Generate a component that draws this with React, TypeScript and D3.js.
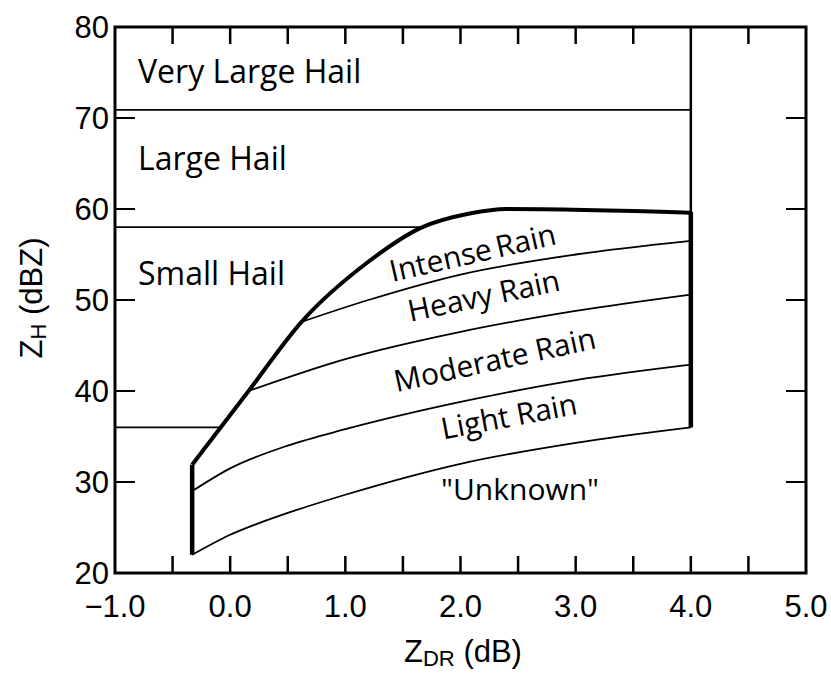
import React from 'react';
import * as d3 from 'd3';

const W = 831;
const H = 675;

// axis data
const xDomain: [number, number] = [-1, 5];
const yDomain: [number, number] = [20, 80];
const xLabelValues = [-1, 0, 1, 2, 3, 4, 5];
const xTickValues = [-0.5, 0, 0.5, 1, 1.5, 2, 2.5, 3, 3.5, 4, 4.5];
const xTopTickValues = [-0.5, 0, 0.5, 1, 1.5, 2, 2.5, 3, 3.5, 4.5];
const yLabelValues = [20, 30, 40, 50, 60, 70, 80];
const yTickValues = [30, 40, 50, 60, 70];

// hail boundaries (dBZ) and where they stop (dB)
const hailLevels = [70.9, 58, 36];
const hailLevelEnds = [4.0, 1.66, -0.09];

// rain region boundaries [Zdr, Zh]
const upperBoundary: [number, number][] = [
  [-0.33, 31.9], [0.16, 40], [0.62, 47.6], [1.2, 54.2], [1.65, 57.9],
  [2.08, 59.5], [2.4, 60], [4.0, 59.6],
];
const intenseHeavy: [number, number][] = [
  [0.62, 47.6], [1.2, 50], [2.0, 52.8], [3.0, 55], [4.0, 56.5],
];
const heavyModerate: [number, number][] = [
  [0.16, 40], [1.0, 43.5], [2.0, 46.5], [3.0, 48.8], [4.0, 50.6],
];
const moderateLight: [number, number][] = [
  [-0.33, 29], [0, 31.5], [0.5, 34], [1.0, 35.8], [2.0, 38.8], [3.0, 41.2], [4.0, 42.9],
];
const lowerBoundary: [number, number][] = [
  [-0.33, 22], [0, 24.2], [0.5, 26.6], [1.0, 28.6], [2.0, 32.0], [3.0, 34.3], [4.0, 36],
];

const regionNames = ['Very Large Hail', 'Large Hail', 'Small Hail', 'Intense Rain', 'Heavy Rain', 'Moderate Rain', 'Light Rain', '"Unknown"'];
// label anchor (Zdr, Zh), rotation, anchor
const regionAnchors: [number, number, number, string][] = [
  [-0.8, 73.8, 0, 'start'],
  [-0.8, 64.3, 0, 'start'],
  [-0.8, 51.6, 0, 'start'],
  [2.126, 54.07, -12.9, 'middle'],
  [2.221, 49.34, -11.8, 'middle'],
  [2.317, 42.31, -12.3, 'middle'],
  [2.438, 36.08, -10.7, 'middle'],
  [2.517, 28.0, 0, 'middle'],
];

const M = { left: 115, right: 831 - 806, top: 27, bottom: 675 - 573 };

export default function App() {
  const x = d3.scaleLinear().domain(xDomain).range([M.left, W - M.right]);
  const y = d3.scaleLinear().domain(yDomain).range([H - M.bottom, M.top]);
  const line = d3.line<[number, number]>().x(d => x(d[0])).y(d => y(d[1])).curve(d3.curveMonotoneX);
  const x0 = x(xDomain[0]), x1 = x(xDomain[1]);
  const y0 = y(yDomain[0]), y1 = y(yDomain[1]);
  const labelFont = '"Open Sans", Lato, sans-serif';
  const numFont = '"Liberation Sans", Arial, sans-serif';
  const first = upperBoundary[0];
  const last = upperBoundary[upperBoundary.length - 1];
  const lowFirst = lowerBoundary[0];
  const lowLast = lowerBoundary[lowerBoundary.length - 1];
  return (
    <svg width={W} height={H} style={{ position: 'absolute', left: 0, top: 0, background: '#fff' }}>
      <rect width={W} height={H} fill="#fff" />
      {/* frame */}
      <rect x={x0} y={y1} width={x1 - x0} height={y0 - y1} fill="none" stroke="#000" strokeWidth={3} />
      {/* ticks */}
      {xTickValues.map(v => (
        <line key={'bx' + v} x1={x(v)} x2={x(v)} y1={y0} y2={y0 - 17} stroke="#000" strokeWidth={2.5} />
      ))}
      {xTopTickValues.map(v => (
        <line key={'tx' + v} x1={x(v)} x2={x(v)} y1={y1} y2={y1 + 17} stroke="#000" strokeWidth={2.5} />
      ))}
      {yTickValues.map(v => (
        <g key={'y' + v}>
          <line x1={x0} x2={x0 + 20} y1={y(v)} y2={y(v)} stroke="#000" strokeWidth={2} />
          <line x1={x1} x2={x1 - 20} y1={y(v)} y2={y(v)} stroke="#000" strokeWidth={2} />
        </g>
      ))}
      {/* tick labels */}
      {xLabelValues.map(v => (
        <text key={'xl' + v} x={x(v)} y={y0 + 44} textAnchor="middle" fontFamily={numFont} fontSize={31} fill="#000">
          {(v < 0 ? '\u2212' : '') + Math.abs(v).toFixed(1)}
        </text>
      ))}
      {yLabelValues.map(v => (
        <text key={'yl' + v} x={x0 - 6} y={y(v)} dy="0.36em" textAnchor="end" fontFamily={numFont} fontSize={31} fill="#000">
          {v}
        </text>
      ))}
      {/* axis titles */}
      <text x={463} y={662} textAnchor="middle" fontFamily={numFont} fontSize={31} fill="#000">
        Z<tspan fontSize={22} dy={4}>DR</tspan><tspan dy={-4}> (dB)</tspan>
      </text>
      <text transform={`translate(42,298) rotate(-90)`} textAnchor="middle" fontFamily={numFont} fontSize={31} fill="#000">
        Z<tspan fontSize={22} dy={4}>H</tspan><tspan dy={-4}> (dBZ)</tspan>
      </text>
      {/* hail boundaries */}
      {hailLevels.map((v, i) => (
        <line key={'h' + v} x1={x0} x2={x(hailLevelEnds[i])} y1={y(v)} y2={y(v)} stroke="#000" strokeWidth={1.8} />
      ))}
      {/* vertical at 4.0 upper thin */}
      <line x1={x(last[0])} x2={x(last[0])} y1={y1} y2={y(last[1])} stroke="#000" strokeWidth={2.5} />
      {/* rain boundaries */}
      {[intenseHeavy, heavyModerate, moderateLight, lowerBoundary].map((d, i) => (
        <path key={'r' + i} d={line(d) || ''} fill="none" stroke="#000" strokeWidth={1.8} />
      ))}
      <path d={line(upperBoundary) || ''} fill="none" stroke="#000" strokeWidth={4} strokeLinejoin="round" />
      <line x1={x(lowFirst[0])} x2={x(first[0])} y1={y(lowFirst[1])} y2={y(first[1])} stroke="#000" strokeWidth={4.5} />
      <line x1={x(last[0])} x2={x(lowLast[0])} y1={y(last[1]) - 1} y2={y(lowLast[1])} stroke="#000" strokeWidth={4.5} />
      {/* region labels */}
      {regionNames.map((t, i) => {
        const [ax, ay, rot, anchor] = regionAnchors[i];
        const size = i < 3 ? 32 : 30;
        return (
          <text key={t} transform={`translate(${x(ax)},${y(ay)}) rotate(${rot})`} textAnchor={anchor}
            fontFamily={labelFont} fontSize={size} fill="#000" wordSpacing={i === 3 ? -3 : 0}>
            {t}
          </text>
        );
      })}
    </svg>
  );
}
